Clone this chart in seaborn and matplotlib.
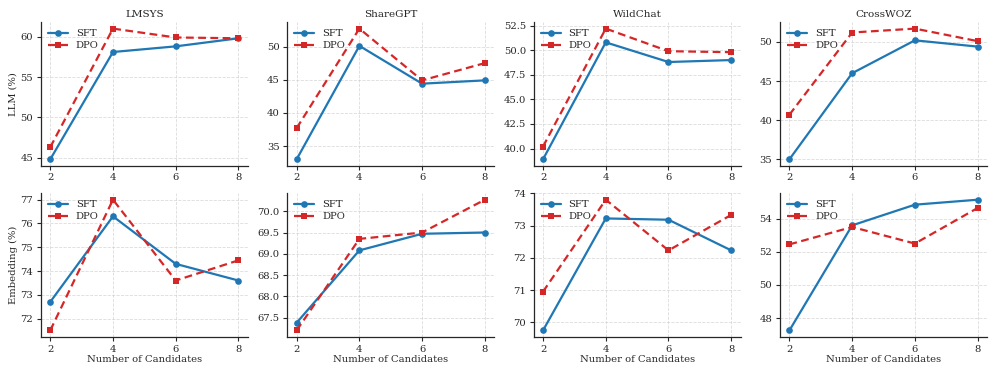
import numpy as np
import pandas as pd
import matplotlib
matplotlib.use("Agg")
import matplotlib.pyplot as plt
import seaborn as sns

candidates = [2, 4, 6, 8]
datasets = ["LMSYS", "ShareGPT", "WildChat", "CrossWOZ"]
metrics = ["LLM (%)", "Embedding (%)"]

# LLM scores
llm_sft = {
    "LMSYS": [44.8, 58.1, 58.8, 59.8],
    "ShareGPT": [33.0, 50.1, 44.4, 44.9],
    "WildChat": [38.9, 50.8, 48.8, 49.0],
    "CrossWOZ": [35.0, 46.0, 50.2, 49.4],
}
llm_dpo = {
    "LMSYS": [46.3, 61.0, 59.9, 59.8],
    "ShareGPT": [37.7, 52.7, 44.9, 47.5],
    "WildChat": [40.2, 52.2, 49.9, 49.8],
    "CrossWOZ": [40.7, 51.2, 51.7, 50.1],
}

# Embedding scores
emb_sft = {
    "LMSYS": [72.7, 76.3, 74.3, 73.6],
    "ShareGPT": [67.38, 69.08, 69.47, 69.50],
    "WildChat": [69.75, 73.22, 73.18, 72.23],
    "CrossWOZ": [47.25, 53.6, 54.85, 55.15],
}
emb_dpo = {
    "LMSYS": [71.5, 77.0, 73.6, 74.45],
    "ShareGPT": [67.2, 69.35, 69.50, 70.27],
    "WildChat": [70.95, 73.80, 72.23, 73.33],
    "CrossWOZ": [52.45, 53.5, 52.5, 54.65],
}

sns.set_style("ticks")
plt.rcParams['font.family'] = ['DejaVu Serif']
plt.rcParams['font.size'] = 7

palette = {"SFT": "#1f77b4", "DPO": "#d62728"}
markers = {"SFT": "o", "DPO": "s"}
dashes = {"SFT": "", "DPO": (3.5, 2)}

fig, axes = plt.subplots(2, 4, figsize=(9.96, 3.74), dpi=100)
fig.subplots_adjust(left=0.041, right=0.991, top=0.941, bottom=0.099, wspace=0.19, hspace=0.19)

for r, (sft, dpo) in enumerate([(llm_sft, llm_dpo), (emb_sft, emb_dpo)]):
    for c, name in enumerate(datasets):
        ax = axes[r][c]
        rows = []
        for k, x in enumerate(candidates):
            rows.append([x, sft[name][k], "SFT"])
        for k, x in enumerate(candidates):
            rows.append([x, dpo[name][k], "DPO"])
        df = pd.DataFrame(rows, columns=["n", "score", "method"])
        sns.lineplot(ax=ax, data=df, x="n", y="score", hue="method", style="method",
                     palette=palette, markers=markers, dashes=dashes,
                     markersize=4.8, linewidth=1.6, markeredgewidth=0)
        ax.grid(True, linestyle="--", color="#cccccc", alpha=0.7, linewidth=0.6)
        ax.set_xticks(candidates)
        ax.tick_params(labelsize=7.2, length=3, width=0.8, pad=2.5)
        for s in ax.spines.values():
            s.set_linewidth(0.9)
        sns.despine(ax=ax)
        ax.legend(loc="upper left", frameon=False, fontsize=7.2, handlelength=2.0,
                  borderaxespad=0.3, labelspacing=0.3)
        if r == 0:
            ax.set_title(name, fontsize=7.5, pad=3.5)
            ax.set_xlabel(None)
        else:
            ax.set_xlabel("Number of Candidates", fontsize=7.2, labelpad=1)
        if c == 0:
            ax.set_ylabel(metrics[r], fontsize=7.2, labelpad=2)
        else:
            ax.set_ylabel(None)

fig.savefig("out.png", dpi=100)
